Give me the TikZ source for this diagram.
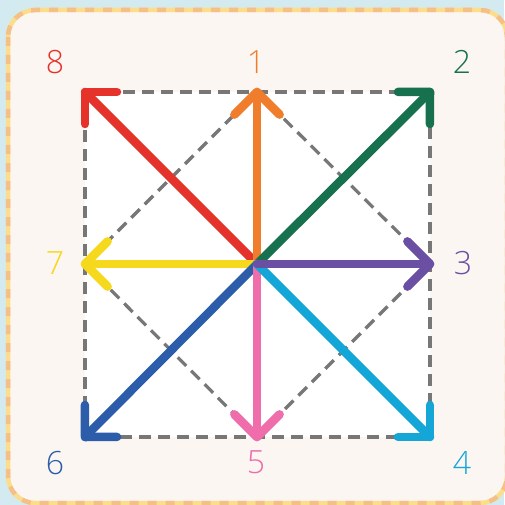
\documentclass[tikz,border=0pt]{standalone}
\usepackage{fontspec}
\setmainfont{Open Sans Light}
\usetikzlibrary{calc}
\definecolor{bgblue}{HTML}{D3EBF0}
\definecolor{card}{HTML}{FCF6F2}
\definecolor{bordY}{HTML}{FBDD8C}
\definecolor{bordO}{HTML}{F4C088}
\definecolor{dgray}{HTML}{777777}
\definecolor{cRed}{HTML}{E5332B}
\definecolor{cOrange}{HTML}{F07D2C}
\definecolor{cGreen}{HTML}{17704E}
\definecolor{cPurple}{HTML}{6B4FA3}
\definecolor{cCyan}{HTML}{13A6D6}
\definecolor{cPink}{HTML}{EE6DAA}
\definecolor{cBlue}{HTML}{2B5DAA}
\definecolor{cYellow}{HTML}{F6D81C}
\newcommand{\dirarr}[2]{%
  \draw[dirline, #2] (C) -- (#1);
  \draw[dirline, #2] ($(#1)!32pt!45:(C)$) -- (#1) -- ($(#1)!32pt!-45:(C)$);}
\begin{document}
\begin{tikzpicture}[x=1pt,y=-1pt,
  dirline/.style={line width=8.5pt, line cap=round, line join=round},
  guide/.style={dgray, line width=3.2pt, dash pattern=on 12pt off 7pt},
  numlabel/.style={font=\fontsize{32}{32}\selectfont, inner sep=0pt, anchor=center}]
\useasboundingbox (0,0) rectangle (504,505);
\fill[bgblue] (0,0) rectangle (504,505);
% card
\fill[card] (8,10) [rounded corners=27pt] rectangle (507,503);
\draw[bordY, line width=4.5pt, rounded corners=27pt] (8,10) rectangle (507,503);
\draw[bordO, line width=4.5pt, rounded corners=27pt, dash pattern=on 9pt off 9pt] (8,10) rectangle (507,503);
% square
\fill[white] (85,92) rectangle (430,437);
\coordinate (C) at (257,264);
\coordinate (P1) at (257,92);
\coordinate (P2) at (430,92);
\coordinate (P3) at (430,264);
\coordinate (P4) at (430,437);
\coordinate (P5) at (257,437);
\coordinate (P6) at (85,437);
\coordinate (P7) at (85,264);
\coordinate (P8) at (85,92);
\draw[guide] (P8) -- (P2) -- (P4) -- (P6) -- cycle;
\draw[guide] (P1) -- (P3) -- (P5) -- (P7) -- cycle;
% arrows
\dirarr{P8}{cRed}
\dirarr{P1}{cOrange}
\dirarr{P2}{cGreen}
\dirarr{P7}{cYellow}
\dirarr{P6}{cBlue}
\dirarr{P5}{cPink}
\dirarr{P4}{cCyan}
\dirarr{P3}{cPurple}
% labels
\node[numlabel, cRed] (L8) at (55,62) {8};
\node[numlabel, cOrange] (L1) at (256,62) {1};
\node[numlabel, cGreen] (L2) at (462,62) {2};
\node[numlabel, cPurple] (L3) at (463,263) {3};
\node[numlabel, cCyan] (L4) at (462,463) {4};
\node[numlabel, cPink] (L5) at (256,462) {5};
\node[numlabel, cBlue] (L6) at (55,463) {6};
\node[numlabel, cYellow] (L7) at (55,263) {7};
\end{tikzpicture}
\end{document}
